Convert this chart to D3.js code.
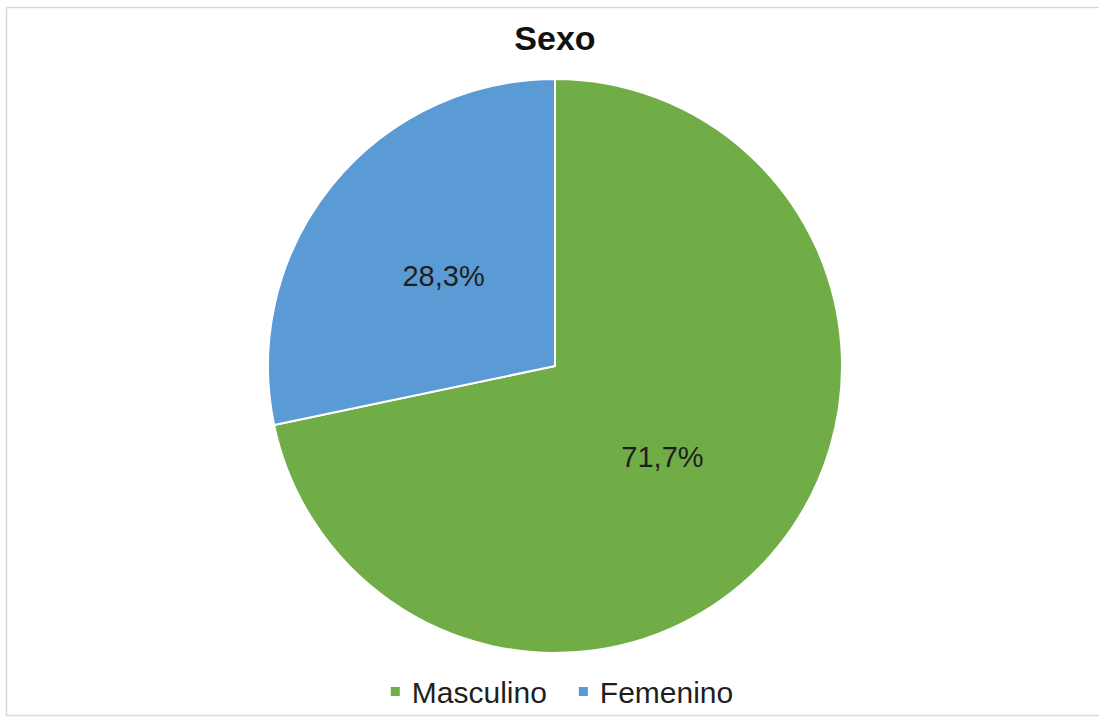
<!DOCTYPE html>
<html>
<head>
<meta charset="utf-8">
<script src="https://cdn.jsdelivr.net/npm/d3@7"></script>
<style>
  html, body { margin: 0; padding: 0; background: #ffffff; }
  svg { display: block; }
  text { font-family: "Liberation Sans", Arial, sans-serif; }
</style>
</head>
<body>
<svg id="chart" width="1099" height="720"></svg>
<script>
// Share of respondents by sex
const categories = ["Masculino", "Femenino"];
const values = [71.7, 28.3];
const labels = ["71,7%", "28,3%"];
const colors = ["#70AD47", "#5B9BD5"];
const title = "Sexo";

const W = 1099, H = 720;
const cx = 555, cy = 366, R = 287;

const svg = d3.select("#chart");

// chart area frame
svg.append("rect")
  .attr("x", 6.5).attr("y", 7.5)
  .attr("width", 1100).attr("height", 708)
  .attr("fill", "#ffffff")
  .attr("stroke", "#d9d9d9")
  .attr("stroke-width", 1.5);

svg.append("text")
  .attr("x", cx).attr("y", 50)
  .attr("text-anchor", "middle")
  .attr("font-size", 34)
  .attr("font-weight", "bold")
  .attr("fill", "#111111")
  .text(title);

const data = categories.map((c, i) => ({ name: c, value: values[i], label: labels[i], color: colors[i] }));

const pie = d3.pie().value(d => d.value).sort(null);
const arc = d3.arc().innerRadius(0).outerRadius(R);
const labelArc = d3.arc().innerRadius(R * 0.5).outerRadius(R * 0.5);

const g = svg.append("g").attr("transform", `translate(${cx},${cy})`);
const arcs = pie(data);

g.selectAll("path.slice")
  .data(arcs)
  .join("path")
  .attr("class", "slice")
  .attr("d", arc)
  .attr("fill", d => d.data.color)
  .attr("stroke", "#ffffff")
  .attr("stroke-width", 2)
  .attr("stroke-linejoin", "round");

g.selectAll("text.lbl")
  .data(arcs)
  .join("text")
  .attr("class", "lbl")
  .attr("transform", d => {
    const [x, y] = labelArc.centroid(d);
    return `translate(${x - (d.index === 0 ? 4 : 0)},${y})`;
  })
  .attr("text-anchor", "middle")
  .attr("dy", "0.36em")
  .attr("font-size", 29)
  .attr("fill", "#1f1f1f")
  .text(d => d.data.label);

// legend centred below the pie
const legend = svg.append("g").attr("class", "legend");
const items = legend.selectAll("g.item")
  .data(data)
  .join("g")
  .attr("class", "item");

items.append("rect")
  .attr("width", 9).attr("height", 9)
  .attr("y", -10)
  .attr("fill", d => d.color);

items.append("text")
  .attr("x", 21)
  .attr("y", 0)
  .attr("dy", "0.2em")
  .attr("font-size", 30)
  .attr("fill", "#1f1f1f")
  .text(d => d.name);

const gap = 32;
const widths = items.nodes().map(n => n.getBBox().width);
const total = d3.sum(widths) + gap * (widths.length - 1);
const x0 = cx + 7 - total / 2;
items.attr("transform", (d, i) => {
  const x = x0 + d3.sum(widths.slice(0, i)) + gap * i;
  return `translate(${x},${697})`;
});
</script>
</body>
</html>
